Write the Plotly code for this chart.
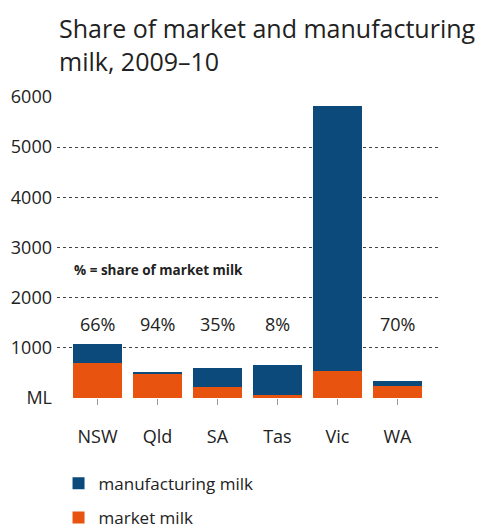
import plotly.graph_objects as go

states = ["NSW", "Qld", "SA", "Tas", "Vic", "WA"]
market = [705, 490, 212, 53, 546, 246]
manufacturing = [365, 30, 388, 613, 5274, 100]
share_labels = ["66%", "94%", "35%", "8%", "9%", "70%"]
label_y = [1470, 1470, 1470, 1470, 6360, 1470]
y_ticks = [0, 1000, 2000, 3000, 4000, 5000, 6000]
y_tick_text = ["ML", "1000", "2000", "3000", "4000", "5000", "6000"]
title_text = "Share of market and manufacturing<br>milk, 2009–10"

BLUE = "#0B4A7A"
ORANGE = "#E8530F"
FONT = "Open Sans, Liberation Sans, sans-serif"

fig = go.Figure()
fig.add_trace(go.Bar(x=states, y=market, name="market milk", marker_color=ORANGE,
                     marker_line_width=0, legendgroup="b", legendrank=2))
fig.add_trace(go.Bar(x=states, y=manufacturing, name="manufacturing milk", marker_color=BLUE,
                     marker_line_width=0, legendgroup="a", legendrank=1))

for s, t, yy in zip(states, share_labels, label_y):
    fig.add_annotation(x=s, y=yy, text=t, showarrow=False, xref="x", yref="y",
                       font=dict(size=18, color="#222", family=FONT))

fig.add_annotation(x=-0.42, y=2550, text="<b>% = share of market milk</b>", showarrow=False,
                   xref="x", yref="y", xanchor="left",
                   font=dict(size=13.5, color="#222", family=FONT))

fig.add_annotation(x=0, y=(398 - 44) / 301, xref="paper", yref="paper", xanchor="left",
                   yanchor="middle", align="left", showarrow=False, text=title_text,
                   font=dict(size=25, color="#222", family=FONT))

fig.update_layout(
    width=484, height=531,
    margin=dict(l=57, r=44, t=97, b=133, autoexpand=False),
    paper_bgcolor="white", plot_bgcolor="white",
    barmode="stack", bargap=0.18,
    legend=dict(x=0.004, y=-0.225, xanchor="left", yanchor="top", traceorder="grouped",
                tracegroupgap=9, font=dict(size=17, color="#222", family=FONT)),
    font=dict(family=FONT, color="#222"),
)
fig.update_xaxes(range=[-0.675, 5.71], showgrid=False, showline=False, ticks="outside",
                 ticklen=6, tickcolor="#999", tickwidth=1, ticklabelstandoff=16,
                 tickfont=dict(size=18, color="#222", family=FONT))
fig.update_yaxes(range=[0, 6000], tickvals=y_ticks, ticktext=y_tick_text, showgrid=True,
                 gridcolor="#444", griddash="dot", gridwidth=1, zeroline=False,
                 showline=False, ticks="", ticklabelstandoff=4,
                 tickfont=dict(size=18, color="#222", family=FONT))

fig.write_html("out.html")
